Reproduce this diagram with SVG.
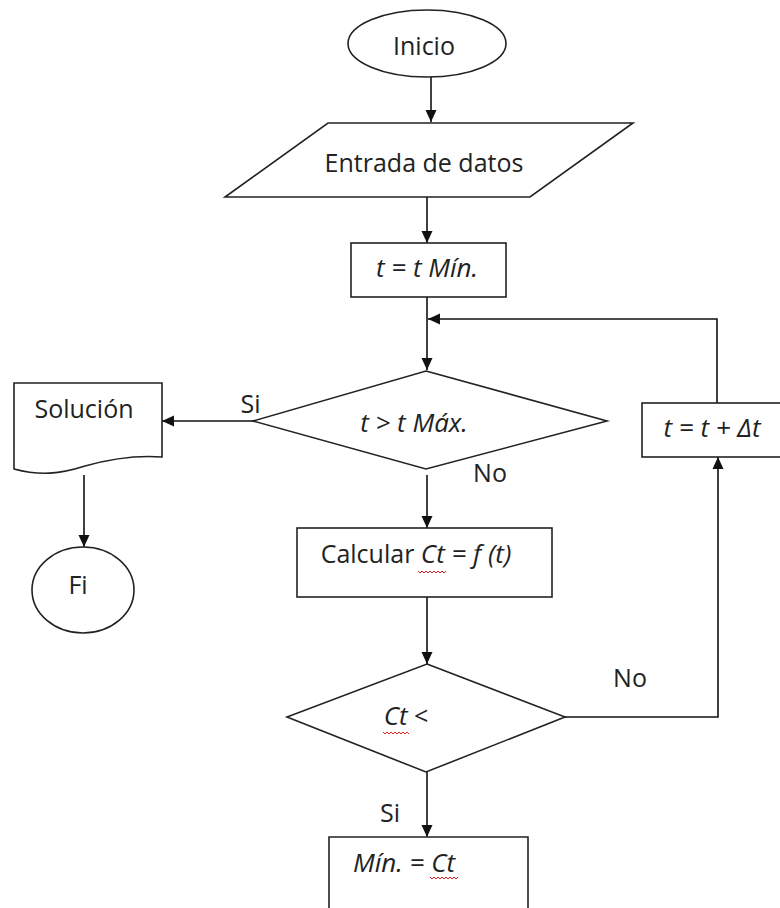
<svg xmlns="http://www.w3.org/2000/svg" width="780" height="908" viewBox="0 0 780 908">
<style>
  .shape { fill: #fff; stroke: #222; stroke-width: 1.6; }
  .conn { fill: none; stroke: #111; stroke-width: 1.6; }
  text { font-family: "Open Sans", "Noto Sans", sans-serif; font-size: 25px; fill: #222; }
  .c { text-anchor: middle; }
  .it { font-style: italic; font-size: 26px; }
  .sq { fill: none; stroke: #e02020; stroke-width: 1; }
</style>
<defs>
  <marker id="arr" viewBox="0 0 12 12" refX="12" refY="6" markerWidth="12" markerHeight="12" markerUnits="userSpaceOnUse" orient="auto">
    <path d="M0,0.5 L12,6 L0,11.5 Z" fill="#111"/>
  </marker>
</defs>
<rect width="780" height="908" fill="#fff"/>

<g id="connectors">
  <path class="conn" d="M431,77 V122" marker-end="url(#arr)"/>
  <path class="conn" d="M427,197 V243" marker-end="url(#arr)"/>
  <path class="conn" d="M427,297 V370" marker-end="url(#arr)"/>
  <path class="conn" d="M717,403 V319 H428" marker-end="url(#arr)"/>
  <path class="conn" d="M253,421 H162" marker-end="url(#arr)"/>
  <path class="conn" d="M84,475 V547" marker-end="url(#arr)"/>
  <path class="conn" d="M427,475 V528" marker-end="url(#arr)"/>
  <path class="conn" d="M427,597 V664" marker-end="url(#arr)"/>
  <path class="conn" d="M565,717 H718 V457" marker-end="url(#arr)"/>
  <path class="conn" d="M427,772 V837" marker-end="url(#arr)"/>
</g>

<g id="labels">
  <text class="c" x="250.5" y="413">Si</text>
  <text class="c" x="490" y="482">No</text>
  <text class="c" x="630" y="687">No</text>
  <text class="c" x="390" y="822">Si</text>
</g>

<g id="inicio">
  <ellipse class="shape" cx="427" cy="43.5" rx="79" ry="33.5"/>
  <text class="c" x="424" y="55">Inicio</text>
</g>

<g id="entrada">
  <polygon class="shape" points="328,123 633,123 530,197 225,197"/>
  <text class="c" x="424" y="172">Entrada de datos</text>
</g>

<g id="tmin">
  <rect class="shape" x="351" y="243" width="155" height="54"/>
  <text class="c it" x="427" y="277">t = t Mín.</text>
</g>

<g id="cond1">
  <polygon class="shape" points="426,371 607,421 426,469 253,421"/>
  <text class="c it" x="414" y="432">t &gt; t Máx.</text>
</g>

<g id="solucion">
  <path class="shape" d="M14,383 H162 V457 C135,455 110,459 85,466 C60,474 40,476 14,469 Z"/>
  <text class="c" x="84" y="418">Solución</text>
</g>

<g id="fi">
  <ellipse class="shape" cx="83" cy="590" rx="51" ry="43"/>
  <text class="c" x="78" y="594">Fi</text>
</g>

<g id="incremento">
  <rect class="shape" x="642" y="403" width="150" height="54"/>
  <text class="c it" x="712" y="437">t = t + Δt</text>
</g>

<g id="calcular">
  <rect class="shape" x="297" y="528" width="255" height="69"/>
  <text class="c" x="416" y="563">Calcular <tspan class="it">Ct = f (t)</tspan></text>
  <path class="sq" d="M418,571 l2,2 l2,-2 l2,2 l2,-2 l2,2 l2,-2 l2,2 l2,-2 l2,2 l2,-2 l2,2 l2,-2 l2,2 l2,-2"/>
</g>

<g id="cond2">
  <polygon class="shape" points="427,664 565,717 426,772 287,717"/>
  <text class="c" x="406" y="725"><tspan class="it">Ct</tspan> &lt;</text>
  <path class="sq" d="M383,732 l2,2 l2,-2 l2,2 l2,-2 l2,2 l2,-2 l2,2 l2,-2 l2,2 l2,-2 l2,2 l2,-2 l2,2"/>
</g>

<g id="minimo">
  <path class="shape" d="M329,910 V837 H528 V910"/>
  <text class="c it" x="404" y="872">Mín. = Ct</text>
  <path class="sq" d="M430,877 l2,2 l2,-2 l2,2 l2,-2 l2,2 l2,-2 l2,2 l2,-2 l2,2 l2,-2 l2,2 l2,-2 l2,2 l2,-2"/>
</g>
</svg>
